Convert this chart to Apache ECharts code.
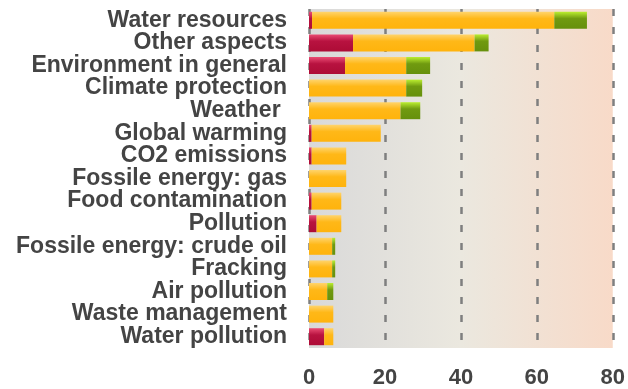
<!DOCTYPE html>
<html>
<head>
<meta charset="utf-8">
<script src="https://cdn.jsdelivr.net/npm/echarts@6/dist/echarts.min.js"></script>
<style>
html,body{margin:0;padding:0;background:#fff;}
#chart{width:628px;height:389px;}
</style>
</head>
<body>
<div id="chart"></div>
<script>
var categories = ["Water resources","Other aspects","Environment in general","Climate protection","Weather ","Global warming","CO2 emissions","Fossile energy: gas","Food contamination","Pollution","Fossile energy: crude oil","Fracking","Air pollution","Waste management","Water pollution"];
var redValues    = [0.8, 11.6, 9.5, 0, 0, 0.7, 0.7, 0, 0.7, 2.0, 0, 0, 0, 0, 4.0];
var orangeValues = [63.8, 32.0, 16.1, 25.6, 24.1, 18.2, 9.1, 9.8, 7.8, 6.5, 6.1, 6.1, 4.8, 6.4, 2.4];
var greenValues  = [8.6, 3.7, 6.3, 4.2, 5.2, 0, 0, 0, 0, 0, 0.8, 0.8, 1.6, 0, 0];
var xTicks = [0, 20, 40, 60, 80];

var G = echarts.graphic.LinearGradient;
function vgrad(top, mid, bot){
  return new G(0,0,0,1,[{offset:0,color:top},{offset:0.4,color:mid},{offset:1,color:bot}]);
}
var chart = echarts.init(document.getElementById('chart'));
var FONT = '"Liberation Sans", Arial, sans-serif';
chart.setOption({
  animation:false,
  grid:{left:309, right:12, top:9, bottom:38, show:true, borderWidth:0,
    backgroundColor:new G(0,0,1,0,[{offset:0,color:'#d9d9d9'},{offset:0.5,color:'#ebe8df'},{offset:1,color:'#f8dac8'}])},
  xAxis:{type:'value', min:xTicks[0], max:xTicks[xTicks.length-1], interval:20,
    axisLine:{show:false}, axisTick:{show:false},
    splitLine:{show:true, lineStyle:{color:'#7f7f7f', width:2.5, type:[7,11]}},
    axisLabel:{color:'#444', fontFamily:FONT, fontWeight:'bold', fontSize:22, margin:19}},
  yAxis:{type:'category', data:categories, inverse:true,
    axisLine:{show:false}, axisTick:{show:false},
    axisLabel:{color:'#444', fontFamily:FONT, fontWeight:'bold', fontSize:23, margin:22, interval:0}},
  series:[
    {name:'neg', type:'bar', stack:'s', barWidth:17, data:redValues,
      itemStyle:{color:vgrad('#ea4d74','#b81240','#ad0c36')}},
    {name:'neu', type:'bar', stack:'s', barWidth:17, data:orangeValues,
      itemStyle:{color:vgrad('#ffd46c','#ffb818','#ffb30c')}},
    {name:'pos', type:'bar', stack:'s', barWidth:17, data:greenValues,
      itemStyle:{color:vgrad('#bbee30','#709a10','#66900c')}}
  ]
});
</script>
</body>
</html>
